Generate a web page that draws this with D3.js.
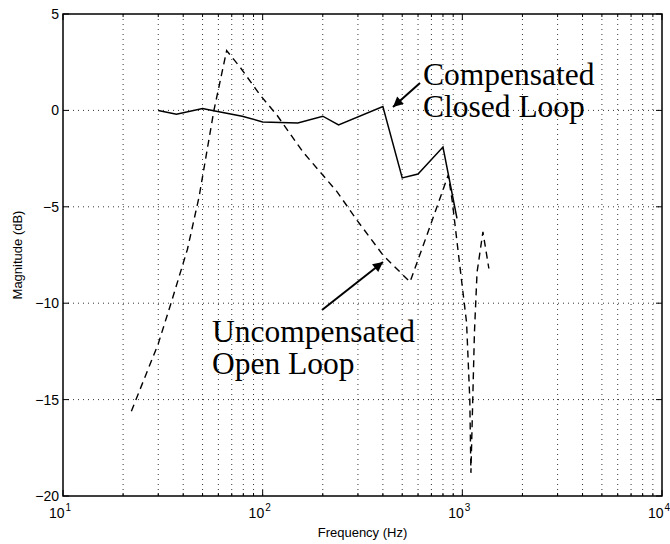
<!DOCTYPE html>
<html>
<head>
<meta charset="utf-8">
<script src="https://cdn.jsdelivr.net/npm/d3@7"></script>
<style>
  body { margin: 0; background: #fff; }
  svg { display: block; }
  .tick-label { font-family: "Liberation Sans", Arial, sans-serif; font-size: 14px; fill: #000; }
  .axis-title { font-family: "Liberation Sans", Arial, sans-serif; font-size: 13px; fill: #000; }
  .note { font-family: "Liberation Serif", "Times New Roman", serif; font-size: 31.5px; fill: #000; }
</style>
</head>
<body>
<div id="chart"></div>
<script>
// Compensated closed loop (solid)
const closedFreq = [30, 37, 50, 56, 79, 100, 150, 200, 240, 400, 500, 600, 800, 940];
const closedMag  = [0, -0.2, 0.1, 0, -0.3, -0.6, -0.65, -0.3, -0.75, 0.2, -3.5, -3.3, -1.9, -5.6];

// Uncompensated open loop (dashed)
const openFreq = [22, 30, 35, 42, 48, 57, 66, 77, 97, 118, 159, 235, 297, 400, 547, 690, 850,
                  890, 970, 1050, 1090, 1104, 1150, 1185, 1268, 1358];
const openMag  = [-15.6, -12.1, -9.9, -7.2, -4.5, 0, 3.1, 2.25, 0.8, -0.25, -2.15, -4.2, -5.7, -7.5, -8.9, -6, -3.35,
                  -4.7, -8, -11, -15, -18.8, -11.5, -8.4, -6.3, -8.2];

const yTicks = [5, 0, -5, -10, -15, -20];
const xDecades = [10, 100, 1000, 10000];
const xExponents = ["1", "2", "3", "4"];

const width = 670, height = 544;
const margin = { top: 14, right: 8, bottom: 48, left: 63 };

const svg = d3.select("#chart")
    .append("svg")
    .attr("width", width)
    .attr("height", height);

const x = d3.scaleLog().domain([10, 10000]).range([margin.left, width - margin.right]);
const y = d3.scaleLinear().domain([-20, 5]).range([height - margin.bottom, margin.top]);

const x0 = x.range()[0], x1 = x.range()[1];
const y0 = y.range()[0], y1 = y.range()[1];

// minor + major frequency values
const allTicks = x.ticks();

// grid
svg.append("g")
    .selectAll("line")
    .data(allTicks.filter(t => t > 10 && t < 10000))
    .join("line")
    .attr("x1", d => x(d)).attr("x2", d => x(d))
    .attr("y1", y1).attr("y2", y0)
    .attr("stroke", "#000")
    .attr("stroke-width", 0.8)
    .attr("stroke-dasharray", "1,4");

svg.append("g")
    .selectAll("line")
    .data(yTicks.filter(t => t > -20 && t < 5))
    .join("line")
    .attr("x1", x0).attr("x2", x1)
    .attr("y1", d => y(d)).attr("y2", d => y(d))
    .attr("stroke", "#000")
    .attr("stroke-width", 0.8)
    .attr("stroke-dasharray", "1,4");

// ticks on all four sides, pointing inward
const tickG = svg.append("g").attr("stroke", "#000").attr("stroke-width", 1);
allTicks.forEach(t => {
    const len = xDecades.includes(t) ? 6 : 3;
    tickG.append("line").attr("x1", x(t)).attr("x2", x(t)).attr("y1", y0).attr("y2", y0 - len);
    tickG.append("line").attr("x1", x(t)).attr("x2", x(t)).attr("y1", y1).attr("y2", y1 + len);
});
yTicks.forEach(t => {
    tickG.append("line").attr("x1", x0).attr("x2", x0 + 6).attr("y1", y(t)).attr("y2", y(t));
    tickG.append("line").attr("x1", x1).attr("x2", x1 - 6).attr("y1", y(t)).attr("y2", y(t));
});

// frame
svg.append("rect")
    .attr("x", x0).attr("y", y1)
    .attr("width", x1 - x0).attr("height", y0 - y1)
    .attr("fill", "none")
    .attr("stroke", "#000")
    .attr("stroke-width", 1.5);

// y tick labels
svg.append("g")
    .selectAll("text")
    .data(yTicks)
    .join("text")
    .attr("class", "tick-label")
    .attr("x", x0 - 4)
    .attr("y", d => y(d))
    .attr("dy", "0.36em")
    .attr("text-anchor", "end")
    .text(d => d < 0 ? "\u2212" + Math.abs(d) : d);

// x tick labels (10^n)
const xl = svg.append("g")
    .selectAll("text")
    .data(xDecades)
    .join("text")
    .attr("class", "tick-label")
    .attr("x", d => x(d) - 3)
    .attr("y", y0 + 22)
    .attr("text-anchor", "middle");
xl.append("tspan").text("10");
xl.append("tspan")
    .attr("font-size", "10px")
    .attr("dx", "1")
    .attr("dy", "-7")
    .text((d, i) => xExponents[i]);

// axis titles
svg.append("text")
    .attr("class", "axis-title")
    .attr("x", (x0 + x1) / 2)
    .attr("y", height - 7)
    .attr("text-anchor", "middle")
    .text("Frequency (Hz)");

svg.append("text")
    .attr("class", "axis-title")
    .attr("transform", `translate(22,${(y0 + y1) / 2}) rotate(-90)`)
    .attr("text-anchor", "middle")
    .text("Magnitude (dB)");

// curves
const line = d3.line()
    .x(d => x(d[0]))
    .y(d => y(d[1]));

svg.append("path")
    .datum(openFreq.map((f, i) => [f, openMag[i]]))
    .attr("d", line)
    .attr("fill", "none")
    .attr("stroke", "#000")
    .attr("stroke-width", 1.4)
    .attr("stroke-dasharray", "7,5");

svg.append("path")
    .datum(closedFreq.map((f, i) => [f, closedMag[i]]))
    .attr("d", line)
    .attr("fill", "none")
    .attr("stroke", "#000")
    .attr("stroke-width", 1.5);

// annotations
svg.append("defs").append("marker")
    .attr("id", "arrow")
    .attr("viewBox", "0 0 10 10")
    .attr("refX", 10).attr("refY", 5)
    .attr("markerWidth", 12).attr("markerHeight", 10)
    .attr("markerUnits", "userSpaceOnUse")
    .attr("orient", "auto")
    .append("path")
    .attr("d", "M0,0 L10,5 L0,10 z")
    .attr("fill", "#000");

svg.append("line")
    .attr("x1", 420).attr("y1", 83)
    .attr("x2", 393).attr("y2", 107)
    .attr("stroke", "#000").attr("stroke-width", 2)
    .attr("marker-end", "url(#arrow)");

svg.append("line")
    .attr("x1", 322).attr("y1", 310)
    .attr("x2", 383).attr("y2", 262)
    .attr("stroke", "#000").attr("stroke-width", 2)
    .attr("marker-end", "url(#arrow)");

const note1 = svg.append("text").attr("class", "note").attr("x", 423).attr("y", 85);
note1.append("tspan").text("Compensated");
note1.append("tspan").attr("x", 423).attr("dy", 32).text("Closed Loop");

const note2 = svg.append("text").attr("class", "note").attr("x", 212).attr("y", 342);
note2.append("tspan").text("Uncompensated");
note2.append("tspan").attr("x", 212).attr("dy", 32).text("Open Loop");
</script>
</body>
</html>
